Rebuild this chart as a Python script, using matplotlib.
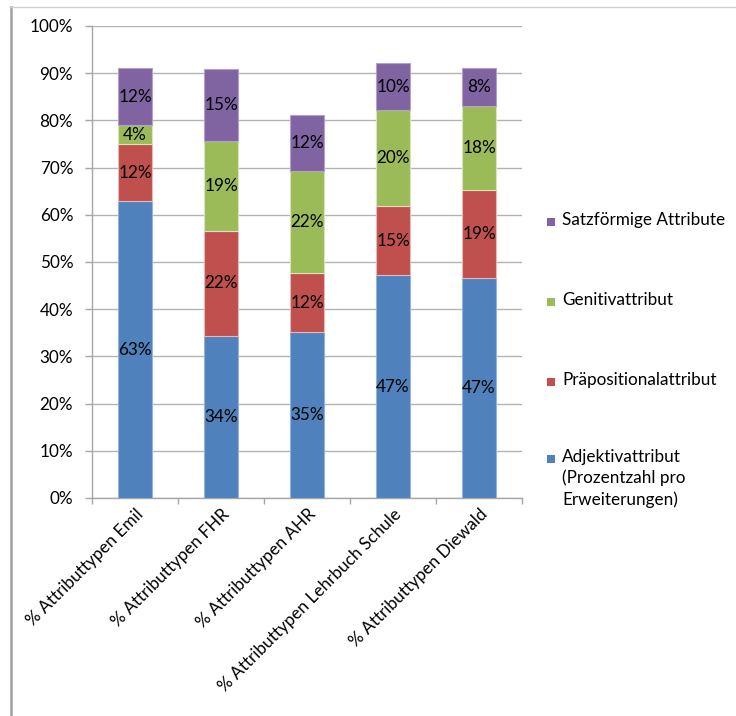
import numpy as np
import matplotlib
matplotlib.use("Agg")
import matplotlib.pyplot as plt
from matplotlib.lines import Line2D
from matplotlib.patches import Rectangle
from matplotlib.transforms import ScaledTranslation

plt.rcParams["font.family"] = ["Lato", "DejaVu Sans"]

categories = [
    "% Attributtypen Emil",
    "% Attributtypen FHR",
    "% Attributtypen AHR",
    "% Attributtypen Lehrbuch Schule",
    "% Attributtypen Diewald",
]
adjektiv = [62.9, 34.3, 35.2, 47.2, 46.6]
praeposition = [12.0, 22.3, 12.4, 14.7, 18.6]
genitiv = [4.1, 19.0, 21.6, 20.3, 17.8]
satzfoermig = [12.0, 15.2, 11.9, 9.9, 8.0]

series_names = [
    "Adjektivattribut\n(Prozentzahl pro\nErweiterungen)",
    "Präpositionalattribut",
    "Genitivattribut",
    "Satzförmige Attribute",
]
colors = ["#4f81bd", "#c0504d", "#9bbb59", "#8064a2"]
edge_colors = ["#95b3d7", "#e6b9b8", "#d7e4bd", "#b3a2c7"]

fs = 12.3
fig = plt.figure(figsize=(7.36, 7.16), dpi=100)
ax = fig.add_axes([92 / 736, 1 - 498 / 716, 430 / 736, 472 / 716])

x = np.arange(len(categories))
bottom = np.zeros(len(categories))
for vals, col, ec in zip([adjektiv, praeposition, genitiv, satzfoermig], colors, edge_colors):
    vals = np.array(vals)
    bars = ax.bar(x, vals, width=0.4, bottom=bottom, color=col, edgecolor=ec,
                  linewidth=0.8, zorder=3)
    ax.bar_label(bars, labels=["%.0f%%" % v for v in vals], label_type="center",
                 fontsize=fs, color="black", zorder=4)
    bottom += vals

ax.set_xlim(-0.5, len(categories) - 0.5)
ax.set_ylim(0, 100)
ax.set_yticks(np.arange(0, 101, 10))
ax.set_yticklabels(["%d%%" % v for v in range(0, 101, 10)], fontsize=fs)
ax.yaxis.grid(True, color="#b3b3b3", linewidth=1, zorder=0)
ax.set_axisbelow(True)

# category boundaries carry the tick marks, labels sit on the bar centres
ax.set_xticks(np.arange(-0.5, len(categories), 1.0))
ax.set_xticklabels([])
ax.set_xticks(x, minor=True)
ax.set_xticklabels(categories, minor=True, rotation=45, ha="right",
                   va="center", rotation_mode="anchor", fontsize=fs)
ax.tick_params(axis="x", which="minor", length=0, pad=10)
ax.tick_params(axis="x", which="major", length=4.5, color="#a6a6a6", width=1)
ax.tick_params(axis="y", length=5, color="#a6a6a6", width=1, pad=8.5)
offset = ScaledTranslation(6 / 100, 0, fig.dpi_scale_trans)
for lbl in ax.xaxis.get_minorticklabels():
    lbl.set_transform(lbl.get_transform() + offset)

for side in ["top", "right"]:
    ax.spines[side].set_visible(False)
for side in ["left", "bottom"]:
    ax.spines[side].set_color("#a6a6a6")
    ax.spines[side].set_linewidth(1)

# legend, drawn top to bottom in reverse stacking order
legend_y = [222, 302, 382, 459]
for name, col, ly in zip(series_names[::-1], colors[::-1], legend_y):
    fig.patches.append(Rectangle((547 / 736, 1 - (ly + 4) / 716), 8 / 736, 8 / 716,
                                 transform=fig.transFigure, facecolor=col,
                                 edgecolor="none"))
    fig.text(562 / 736, 1 - (ly - 10) / 716, name, fontsize=fs, va="top",
             ha="left", linespacing=1.35)

# chart frame
fig.add_artist(Line2D([11 / 736, 11 / 736], [0, 1 - 7 / 716], color="#a0a0a0",
                      linewidth=1.8, transform=fig.transFigure))
fig.add_artist(Line2D([11 / 736, 1], [1 - 7 / 716, 1 - 7 / 716], color="#d0d0d0",
                      linewidth=1, transform=fig.transFigure))

fig.savefig("out.png", dpi=100)
